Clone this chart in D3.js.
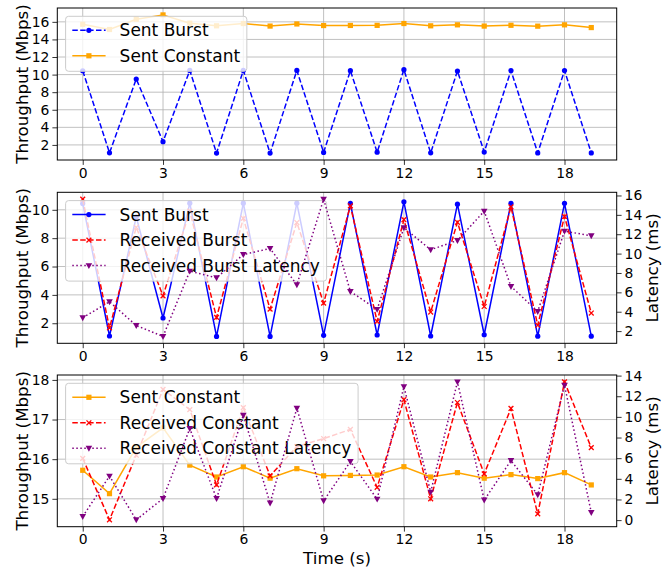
<!DOCTYPE html>
<meta charset="utf-8">
<style>
  body { margin: 0; background: #fff; }
  text { font-family: "DejaVu Sans", sans-serif; fill: #000; }
</style>
<body>
<script src="https://d3js.org/d3.v7.min.js"></script>
<script>
  // values
  var time = [0, 1, 2, 3, 4, 5, 6, 7, 8, 9, 10, 11, 12, 13, 14, 15, 16, 17, 18, 19];
  var xTicks = [0, 3, 6, 9, 12, 15, 18];

  var sentBurst = [10.44, 1.1, 9.5, 2.37, 10.47, 1.07, 10.47, 1.07, 10.47, 1.15,
                   10.45, 1.17, 10.56, 1.1, 10.4, 1.19, 10.46, 1.09, 10.46, 1.09];
  var sentConstant = [15.72, 15.13, 16.3, 16.79, 15.85, 15.55, 15.81, 15.52, 15.76, 15.58,
                      15.59, 15.6, 15.81, 15.55, 15.66, 15.52, 15.61, 15.51, 15.66, 15.35];
  var receivedBurst = [10.75, 1.67, 8.77, 3.93, 9.9, 2.41, 9.4, 3.0, 9.1, 3.42,
                       10.28, 2.13, 9.3, 2.79, 9.12, 3.18, 10.21, 1.86, 9.53, 2.72];
  var burstLatency = [3.38, 5.03, 2.58, 1.45, 8.19, 7.5, 9.9, 10.53, 6.78, 15.62,
                      6.09, 4.24, 12.67, 10.4, 11.36, 14.38, 6.61, 4.03, 12.32, 11.84];
  var receivedConstant = [16.02, 14.47, 16.1, 17.76, 17.25, 15.35, 17.3, 15.58, 16.32, 16.52,
                          16.75, 15.29, 17.5, 15.0, 17.43, 15.63, 17.28, 14.62, 17.95, 16.29];
  var constantLatency = [0.35, 4.26, 0.03, 2.09, 8.87, 2.09, 10.16, 1.65, 10.84, 1.87,
                         5.67, 2.03, 12.93, 2.71, 13.39, 1.94, 5.77, 2.45, 13.07, 0.74];

  var topTicks = [2, 4, 6, 8, 10, 12, 14, 16];
  var midTicks = [2, 4, 6, 8, 10];
  var midLatTicks = [2, 4, 6, 8, 10, 12, 14, 16];
  var botTicks = [15, 16, 17, 18];
  var botLatTicks = [0, 2, 4, 6, 8, 10, 12, 14];

  var width = 668, height = 571,
      left = 57.3, right = 616.7,
      tickFont = 13.9, labelFont = 16.7, legendFont = 17;

  var svg = d3.select("body").append("svg")
    .attr("width", width)
    .attr("height", height);

  var x = d3.scaleLinear().domain([-0.95, 19.95]).range([left, right]);

  // matplotlib style 5% padding
  function padded(arrs) {
    var ext = d3.extent([].concat.apply([], arrs));
    var m = (ext[1] - ext[0]) * 0.05;
    return [ext[0] - m, ext[1] + m];
  }

  var S = {
    blue: { name: "Sent Burst", color: "blue", dash: "5.5,2.4", marker: "circle" },
    orange: { name: "Sent Constant", color: "orange", dash: null, marker: "square" },
    red: { name: "Received Burst", color: "red", dash: "5.5,2.4", marker: "x" },
    purple: { name: "Received Burst Latency", color: "purple", dash: "1.5,2.5", marker: "tri" }
  };

  var panels = [
    { top: 8, bottom: 160, ticks: topTicks,
      series: [Object.assign({}, S.blue, { values: sentBurst }),
               Object.assign({}, S.orange, { values: sentConstant })],
      rightSeries: [] },
    { top: 192.3, bottom: 343.3, ticks: midTicks, rightTicks: midLatTicks,
      series: [Object.assign({}, S.blue, { values: sentBurst, dash: null }),
               Object.assign({}, S.red, { values: receivedBurst })],
      rightSeries: [Object.assign({}, S.purple, { values: burstLatency })] },
    { top: 375, bottom: 526.7, ticks: botTicks, rightTicks: botLatTicks, xlabel: "Time (s)",
      series: [Object.assign({}, S.orange, { values: sentConstant }),
               Object.assign({}, S.red, { values: receivedConstant, name: "Received Constant" })],
      rightSeries: [Object.assign({}, S.purple, { values: constantLatency, name: "Received Constant Latency" })] }
  ];

  function drawMarker(g, type, cx, cy, color) {
    if (type == "circle") {
      g.append("circle").attr("cx", cx).attr("cy", cy).attr("r", 2.6).attr("fill", color);
    } else if (type == "square") {
      g.append("rect").attr("x", cx - 2.6).attr("y", cy - 2.6)
        .attr("width", 5.2).attr("height", 5.2).attr("fill", color);
    } else if (type == "x") {
      var s = 2.4;
      g.append("path")
        .attr("d", "M" + (cx - s) + "," + (cy - s) + "L" + (cx + s) + "," + (cy + s) +
                   "M" + (cx - s) + "," + (cy + s) + "L" + (cx + s) + "," + (cy - s))
        .attr("stroke", color).attr("stroke-width", 1.3).attr("fill", "none");
    } else {
      var s = 3.3;
      g.append("path")
        .attr("d", "M" + (cx - s) + "," + (cy - s * 0.75) + "L" + (cx + s) + "," + (cy - s * 0.75) +
                   "L" + cx + "," + (cy + s * 1.05) + "Z")
        .attr("fill", color);
    }
  }

  function drawSeries(g, s, y) {
    var line = d3.line().x(function(d, i) { return x(time[i]); }).y(function(d) { return y(d); });
    g.append("path")
      .datum(s.values)
      .attr("d", line)
      .attr("fill", "none")
      .attr("stroke", s.color)
      .attr("stroke-width", 1.5)
      .attr("stroke-dasharray", s.dash);
    s.values.forEach(function(v, i) {
      drawMarker(g, s.marker, x(time[i]), y(v), s.color);
    });
  }

  panels.forEach(function(p) {
    var all = p.series.concat(p.rightSeries);
    var y = d3.scaleLinear()
      .domain(padded(p.series.map(function(s) { return s.values; })))
      .range([p.bottom, p.top]);
    var g = svg.append("g");

    // grid
    g.selectAll(".gx").data(xTicks).enter().append("line")
      .attr("x1", d => x(d)).attr("x2", d => x(d))
      .attr("y1", p.top).attr("y2", p.bottom)
      .attr("stroke", "#b0b0b0").attr("stroke-width", 0.8);
    g.selectAll(".gy").data(p.ticks).enter().append("line")
      .attr("x1", left).attr("x2", right)
      .attr("y1", d => y(d)).attr("y2", d => y(d))
      .attr("stroke", "#b0b0b0").attr("stroke-width", 0.8);

    p.series.forEach(function(s) { drawSeries(g, s, y); });

    // legend
    var lg = g.append("g");
    var lx = left + 8.3, ly = p.top + 8.3;
    var box = lg.append("rect")
      .attr("x", lx).attr("y", ly)
      .attr("height", 4 + 25.5 * all.length)
      .attr("rx", 3)
      .attr("fill", "#fff").attr("fill-opacity", 0.8)
      .attr("stroke", "#cccccc").attr("stroke-width", 1);
    var maxW = 0;
    all.forEach(function(s, i) {
      var cy = ly + 14 + i * 25.5;
      lg.append("line")
        .attr("x1", lx + 6.7).attr("x2", lx + 40)
        .attr("y1", cy).attr("y2", cy)
        .attr("stroke", s.color).attr("stroke-width", 1.5)
        .attr("stroke-dasharray", s.dash);
      drawMarker(lg, s.marker, lx + 23.3, cy, s.color);
      var t = lg.append("text")
        .attr("x", lx + 54).attr("y", cy).attr("dy", "0.36em")
        .style("font-size", legendFont + "px")
        .text(s.name);
      maxW = Math.max(maxW, t.node().getComputedTextLength());
    });
    box.attr("width", 54 + maxW + 6.7);

    // right axis
    if (p.rightSeries.length) {
      var y2 = d3.scaleLinear()
        .domain(padded(p.rightSeries.map(function(s) { return s.values; })))
        .range([p.bottom, p.top]);
      p.rightSeries.forEach(function(s) { drawSeries(g, s, y2); });
      var ar = g.append("g").attr("transform", "translate(" + right + ",0)")
        .call(d3.axisRight(y2).tickValues(p.rightTicks).tickFormat(d3.format("d"))
          .tickSize(4.9).tickPadding(3));
      styleAxis(ar);
      g.append("text")
        .attr("transform", "translate(651.5," + (p.top + p.bottom) / 2 + ") rotate(-90)")
        .attr("text-anchor", "middle").attr("dy", "0.36em")
        .style("font-size", labelFont + "px")
        .text("Latency (ms)");
    }

    // left and bottom axes
    var al = g.append("g").attr("transform", "translate(" + left + ",0)")
      .call(d3.axisLeft(y).tickValues(p.ticks).tickFormat(d3.format("d"))
        .tickSize(4.9).tickPadding(3));
    styleAxis(al);
    var ab = g.append("g").attr("transform", "translate(0," + p.bottom + ")")
      .call(d3.axisBottom(x).tickValues(xTicks).tickFormat(d3.format("d"))
        .tickSize(4.9).tickPadding(3));
    styleAxis(ab);

    g.append("rect")
      .attr("x", left).attr("y", p.top)
      .attr("width", right - left).attr("height", p.bottom - p.top)
      .attr("fill", "none").attr("stroke", "#000").attr("stroke-width", 1);

    g.append("text")
      .attr("transform", "translate(21.5," + (p.top + p.bottom) / 2 + ") rotate(-90)")
      .attr("text-anchor", "middle").attr("dy", "0.36em")
      .style("font-size", labelFont + "px")
      .text("Throughput (Mbps)");

    if (p.xlabel) {
      g.append("text")
        .attr("x", (left + right) / 2).attr("y", 564)
        .attr("text-anchor", "middle")
        .style("font-size", labelFont + "px")
        .text(p.xlabel);
    }
  });

  function styleAxis(a) {
    a.select(".domain").remove();
    a.selectAll("line").attr("stroke", "#000").attr("stroke-width", 0.8);
    a.selectAll("text")
      .style("font-family", "DejaVu Sans")
      .style("font-size", tickFont + "px");
  }
</script>
</body>
